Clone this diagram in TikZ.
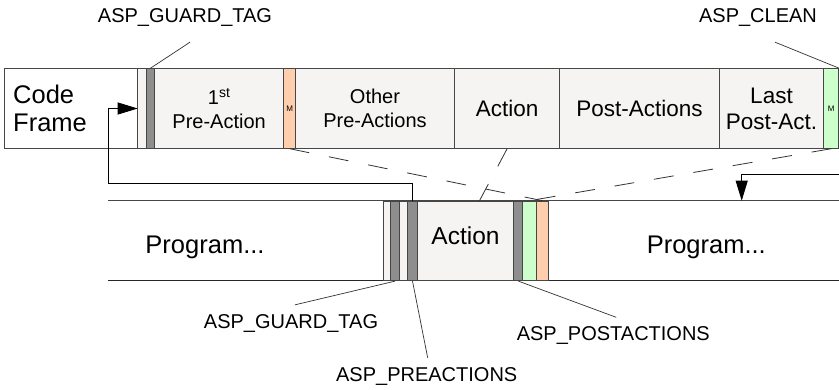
\documentclass[tikz,border=0pt]{standalone}
\usepackage{fontspec}
\setmainfont{Liberation Sans}
\usetikzlibrary{arrows.meta}
\definecolor{boxfill}{RGB}{245,244,242}
\definecolor{stripgrey}{RGB}{142,142,142}
\definecolor{linegrey}{RGB}{70,70,70}
\definecolor{mOrange}{RGB}{255,207,173}
\definecolor{mGreen}{RGB}{204,255,204}
\tikzset{seg/.style = {draw=linegrey, fill=boxfill, line width=1pt, inner sep=0,
                       anchor=north west, minimum height=79.4pt, align=center,
                       font=\fontsize{20}{24}\selectfont}}
\tikzset{strip/.style = {seg, fill=stripgrey}}
\tikzset{mbox/.style = {seg, font=\fontsize{8}{8}\selectfont}}
\tikzset{lbl/.style = {inner sep=2pt, font=\fontsize{20}{22}\selectfont}}
\tikzset{big/.style = {font=\fontsize{22.5}{26}\selectfont}}
\tikzset{lead/.style = {draw=black!80, line width=0.7pt}}
\tikzset{zoomline/.style = {draw=black!80, line width=0.8pt, dash pattern=on 20pt off 20pt}}
\tikzset{arrowto/.style = {-{Triangle[length=20pt,width=12pt]}, line width=0.8pt}}

\begin{document}
\begin{tikzpicture}[x=1pt, y=-1pt]
           \fill [white] (0, 0) rectangle (839, 389);
           \useasboundingbox (0, 0) rectangle (839, 389);

           \draw [linegrey, line width=1.2pt] (107.7, 200.7) -- (839, 200.7);
           \draw [black!85, line width=1pt] (107.7, 280) -- (839, 280);

           \node [seg, fill=white, text width=115.6pt, inner xsep=8.4pt, align=left,
                  font=\fontsize{25.5}{28.3}\selectfont] (code) at (4.3, 68.3) {Code\\Frame};
           \node [seg, minimum width=9pt] (lt) at (136.7, 68.3) {};
           \node [strip, minimum width=8.3pt] (gt) at (145.7, 68.3) {};
           \node [seg, minimum width=129.3pt] (pre1) at (154, 68.3) {1\textsuperscript{st}\\Pre-Action};
           \node [mbox, fill=mOrange, minimum width=11.7pt] (mA) at (283.3, 68.3) {M};
           \node [seg, minimum width=159pt] (pre) at (295, 68.3) {Other\\Pre-Actions};
           \node [seg, big, minimum width=105.3pt] (actT) at (454, 68.3) {Action};
           \node [seg, big, minimum width=159.4pt] (post) at (559.3, 68.3) {Post-Actions};
           \node [seg, big, minimum width=104.6pt] (last) at (718.7, 68.3) {Last\\Post-Act.};
           \node [mbox, fill=mGreen, minimum width=15pt] (mB) at (823.3, 68.3) {M};

           \node [seg, minimum width=6.7pt] (lb) at (383.3, 200.7) {};
           \node [strip, minimum width=9.3pt] (gB) at (390, 200.7) {};
           \node [seg, minimum width=8pt] (lb2) at (399.3, 200.7) {};
           \node [strip, minimum width=9.4pt] (pB) at (407.3, 200.7) {};
           \node [seg, minimum width=96.6pt, text depth=11pt,
                  font=\fontsize{24.5}{28}\selectfont] (actB) at (416.7, 200.7) {Action};
           \node [strip, minimum width=9pt] (sC) at (513.3, 200.7) {};
           \node [seg, fill=mGreen, minimum width=13.4pt] (gC) at (522.3, 200.7) {};
           \node [seg, fill=mOrange, minimum width=12.6pt] (oC) at (535.7, 200.7) {};

           \node [font=\fontsize{25.5}{28}\selectfont] (progL) at (205, 247.5) {Program...};
           \node [font=\fontsize{25.5}{28}\selectfont] (progR) at (706.3, 247.5) {Program...};

           \draw [zoomline] (mA.south) -- (oC.north);
           \draw [zoomline] (mB.south) -- (gC.north);
           \draw [zoomline] (actT.south) -- ([xshift=14pt]actB.north);

           \draw [arrowto] (pB.north) -- ++(0, -17.4) -| ([xshift=-29.4pt]code.east) -- (code.east);
           \coordinate (entry) at (839, 174);
           \coordinate (drop) at (741.7, 200.7);
           \draw [arrowto] (entry) -| (drop);

           \node [lbl] (tagT) at (185, 18) {ASP\_GUARD\_TAG};
           \node [lbl] (clean) at (758, 18) {ASP\_CLEAN};
           \node [lbl] (tagB) at (291, 323) {ASP\_GUARD\_TAG};
           \node [lbl] (preB) at (426.7, 376) {ASP\_PREACTIONS};
           \node [lbl] (postB) at (613.3, 335.5) {ASP\_POSTACTIONS};

           \draw [lead] (tagT.south) ++(5, 13) -- (gt.north);
           \draw [lead] (clean.south) ++(17, 13) -- (mB.north east);
           \draw [lead] (tagB.north) ++(4, -7) -- (gB.south);
           \draw [lead] (preB.north) ++(1, -7) -- (pB.south);
           \draw [lead] (postB.north) ++(3, -7) -- (sC.south);
         \end{tikzpicture}
\end{document}
